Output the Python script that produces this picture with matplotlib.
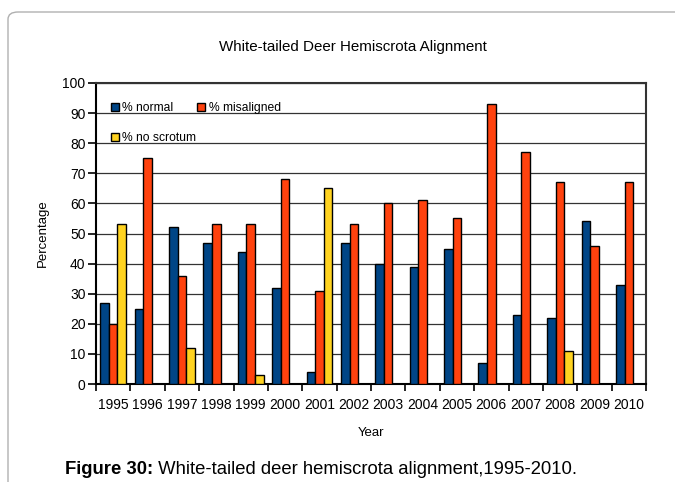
import matplotlib.pyplot as plt
from matplotlib.patches import FancyBboxPatch
import numpy as np

plt.rcParams['font.family'] = ['Liberation Sans', 'DejaVu Sans']

years = [str(y) for y in range(1995, 2011)]
pct_normal = [27, 25, 52, 47, 44, 32, 4, 47, 40, 39, 45, 7, 23, 22, 54, 33]
pct_misaligned = [20, 75, 36, 53, 53, 68, 31, 53, 60, 61, 55, 93, 77, 67, 46, 67]
pct_no_scrotum = [53, 0, 12, 0, 3, 0, 65, 0, 0, 0, 0, 0, 0, 11, 0, 0]

colors = {"normal": "#004586", "misaligned": "#ff420e", "noscrotum": "#ffd320"}

fig = plt.figure(figsize=(6.75, 4.82), dpi=100)

# rounded frame round the chart
frame = FancyBboxPatch((8 / 675, -0.1), 1.2, 1.1 - 12 / 482,
                       boxstyle="round,pad=0,rounding_size=0.015",
                       transform=fig.transFigure, fill=False,
                       edgecolor="#b0b0b0", lw=1.0, clip_on=False)
fig.patches.append(frame)

ax = fig.add_axes([96 / 675, 1 - 384 / 482, 550 / 675, 301 / 482])

x = np.arange(len(years))
w = 0.25
kw = dict(width=w, edgecolor="black", linewidth=1.0, zorder=3)
b1 = ax.bar(x - w, pct_normal, color=colors["normal"], label="% normal", **kw)
b2 = ax.bar(x, pct_misaligned, color=colors["misaligned"], label="% misaligned", **kw)
nz = [v if v > 0 else np.nan for v in pct_no_scrotum]
b3 = ax.bar(x + w, nz, color=colors["noscrotum"], label="% no scrotum", **kw)

ax.set_xlim(-0.5, len(years) - 0.5)
ax.set_ylim(0, 100)
ax.set_yticks(range(0, 101, 10))
ax.yaxis.grid(True, color="#333333", lw=0.9, zorder=0)
ax.set_axisbelow(True)

ax.set_xticks(x)
ax.set_xticklabels(years, fontsize=10)
ax.tick_params(axis="x", which="major", length=0, pad=10)
ax.set_xticks(np.arange(-0.5, len(years), 1), minor=True)
ax.tick_params(axis="x", which="minor", length=5, width=1.2, direction="out")
ax.tick_params(axis="y", length=6, width=1.2, labelsize=10, pad=1.5)

for s in ax.spines.values():
    s.set_linewidth(1.5)
    s.set_color("black")
ax.spines["top"].set_color("#333333")
ax.spines["right"].set_color("#333333")

ax.set_xlabel("Year", fontsize=9.5, labelpad=11)
ax.set_ylabel("Percentage", fontsize=9.5, labelpad=10)
fig.text(353 / 675, 1 - 47 / 482, "White-tailed Deer Hemiscrota Alignment",
         fontsize=10.9, ha="center", va="center")

ax.legend([b1, b3, b2], ["% normal", "% no scrotum", "% misaligned"],
          ncol=2, loc="upper left", bbox_to_anchor=(0.007, 0.972), frameon=False,
          handlelength=0.66, handleheight=0.66, handletextpad=0.28,
          labelspacing=1.45, columnspacing=0.1, fontsize=8.7)

t1 = fig.text(65 / 675, 1 - 474 / 482, "Figure 30:", fontsize=13.3,
              fontweight="bold", va="baseline")
ax.annotate(" White-tailed deer hemiscrota alignment,1995-2010.",
            xy=(1, 0), xycoords=t1, va="bottom", ha="left", fontsize=13.3,
            annotation_clip=False)

fig.savefig("out.png", dpi=100)
